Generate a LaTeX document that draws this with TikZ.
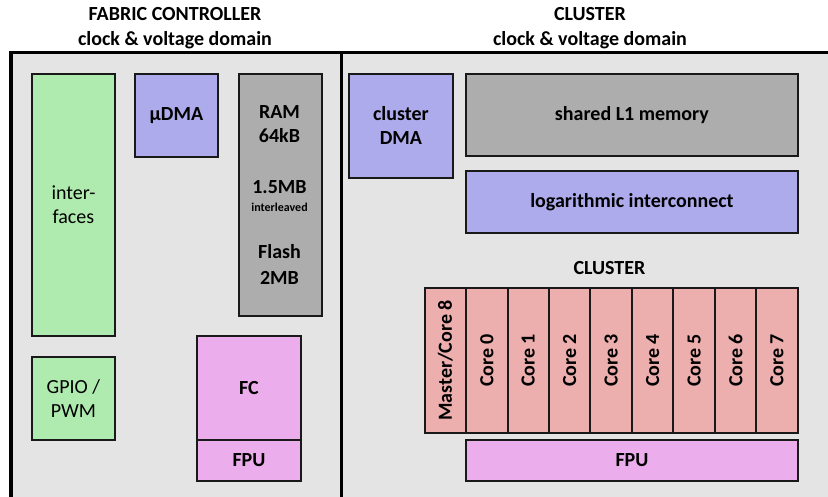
\documentclass[tikz,border=0pt]{standalone}
\usepackage{fontspec}
\setmainfont{Carlito}
\begin{document}
\begin{tikzpicture}[x=1pt,y=-1pt,
  blk/.style={draw=black!90, line width=1.9pt, inner sep=0pt, anchor=north west,
              align=center, font=\fontsize{20}{24}\selectfont\bfseries},
  plain/.style={font=\fontsize{20}{24}\selectfont},
  txt/.style={inner sep=0pt, font=\fontsize{20}{24}\selectfont\bfseries},
  core/.style={blk, fill=coreRed, minimum width=41.4pt, minimum height=145pt},
  title/.style={align=center, inner sep=0pt, font=\fontsize{20}{25}\selectfont\bfseries}]
\definecolor{domGray}{HTML}{E4E4E4}
\definecolor{ioGreen}{HTML}{AFEBAF}
\definecolor{dmaBlue}{HTML}{ADABEB}
\definecolor{memGray}{HTML}{ADADAD}
\definecolor{fcPink}{HTML}{EBADEB}
\definecolor{coreRed}{HTML}{EDAEAE}

\useasboundingbox (0,0) rectangle (828,496);
\clip (0,0) rectangle (828,496);

% clock and voltage domains
\draw[line width=3.6pt, fill=domGray] (10.7,52.3) rectangle (341.3,520);
\draw[line width=3.6pt, fill=domGray] (341.3,52.3) rectangle (850,520);

\node[title] (fctitle) at (175,28) {FABRIC CONTROLLER\\clock \& voltage domain};
\node[title] (cltitle) at (590,28) {CLUSTER\\clock \& voltage domain};

% fabric controller domain
\node[blk, plain, fill=ioGreen, minimum width=83pt, minimum height=262pt] (ifc) at (31,73) {inter-\\faces};
\node[blk, plain, fill=ioGreen, minimum width=83pt, minimum height=83pt] (gpio) at (31,356) {GPIO /\\PWM};
\node[blk, fill=dmaBlue, minimum width=83pt, minimum height=83pt] (udma) at (134,73) {µDMA};
\node[blk, fill=memGray, minimum width=83pt, minimum height=242pt] (ram) at (238,73) {};
\node[txt, anchor=base] (ramA) at (279.5,118.5) {RAM};
\node[txt, anchor=base] (ramB) at (279.5,142.5) {64kB};
\node[txt, anchor=base] (ramC) at (279.5,193.5) {1.5MB};
\node[txt, anchor=base, font=\fontsize{12}{14}\selectfont\bfseries] (ramD) at (279.5,211) {interleaved};
\node[txt, anchor=base] (ramE) at (279.5,258.5) {Flash};
\node[txt, anchor=base] (ramF) at (279.5,284.5) {2MB};
\node[blk, fill=fcPink, minimum width=104pt, minimum height=104pt] (fc) at (196,335) {FC};
\node[blk, fill=fcPink, minimum width=104pt, minimum height=41pt] (fcfpu) at (196,439) {FPU};

% cluster domain
\node[blk, fill=dmaBlue, minimum width=104pt, minimum height=104pt] (cdma) at (348,73) {cluster\\DMA};
\node[blk, fill=memGray, minimum width=332pt, minimum height=82pt] (l1) at (465,73) {shared L1 memory};
\node[blk, fill=dmaBlue, minimum width=332pt, minimum height=62pt] (logic) at (465,170) {logarithmic interconnect};
\node[txt] (cltag) at (609.5,268) {CLUSTER};

\foreach \i/\lab in {0/Master\slash Core 8,1/Core 0,2/Core 1,3/Core 2,4/Core 3,5/Core 4,6/Core 5,7/Core 6,8/Core 7}{
  \node[core] (core\i) at (423.7+41.45*\i,287) {};
  \node[txt, rotate=90] (corelab\i) at (core\i.center) {\lab};
}
\node[blk, fill=fcPink, minimum width=332pt, minimum height=41pt] (clfpu) at (465,439) {FPU};
\end{tikzpicture}
\end{document}
